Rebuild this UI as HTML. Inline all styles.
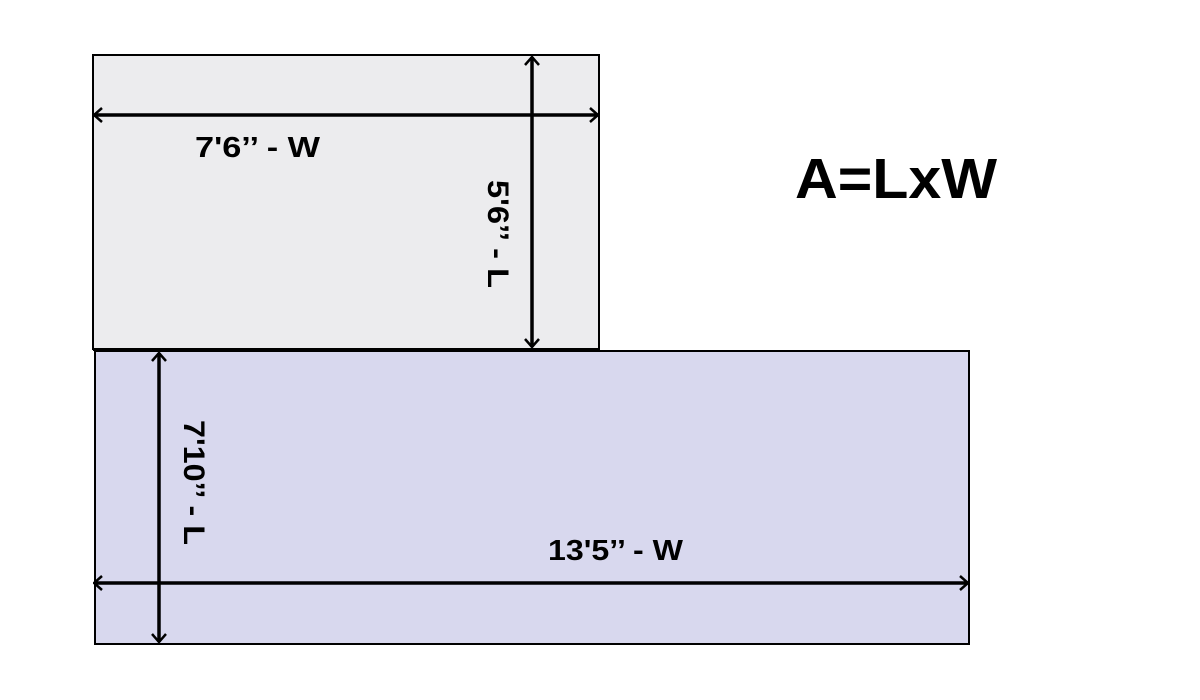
<!DOCTYPE html>
<html><head><meta charset="utf-8"><style>
html,body{margin:0;padding:0;background:#fff;width:1200px;height:700px;overflow:hidden}
svg text{font-family:"Liberation Sans",sans-serif;font-weight:bold;fill:#000}
</style></head><body>
<svg width="1200" height="700" viewBox="0 0 1200 700" xmlns="http://www.w3.org/2000/svg">
<defs>
<marker id="a" viewBox="0 0 10 16" refX="9" refY="8" markerWidth="10" markerHeight="16" markerUnits="userSpaceOnUse" orient="auto-start-reverse">
<path d="M1,1 L9,8 L1,15" fill="none" stroke="#000" stroke-width="2.5"/>
</marker>
</defs>
<rect x="93" y="55" width="506" height="294" fill="#ececee" stroke="#000" stroke-width="2"/>
<rect x="95" y="351" width="874" height="293" fill="#d8d8ee" stroke="#000" stroke-width="2"/>
<line x1="93" y1="349.5" x2="599" y2="349.5" stroke="#000" stroke-width="3"/>
<line x1="94" y1="115" x2="598" y2="115" stroke="#000" stroke-width="3.5" marker-start="url(#a)" marker-end="url(#a)"/>
<line x1="532" y1="57" x2="532" y2="347" stroke="#000" stroke-width="3.5" marker-start="url(#a)" marker-end="url(#a)"/>
<line x1="159" y1="353" x2="159" y2="642" stroke="#000" stroke-width="3.5" marker-start="url(#a)" marker-end="url(#a)"/>
<line x1="94" y1="583" x2="968" y2="583" stroke="#000" stroke-width="3.5" marker-start="url(#a)" marker-end="url(#a)"/>
<text x="195" y="157" font-size="29" textLength="125" lengthAdjust="spacingAndGlyphs">7'6’’ - W</text>
<text x="548" y="560" font-size="29" textLength="135" lengthAdjust="spacingAndGlyphs">13'5’’ - W</text>
<text transform="translate(488,180) rotate(90)" font-size="30" textLength="108" lengthAdjust="spacingAndGlyphs">5'6’’ - L</text>
<text transform="translate(184,420) rotate(90)" font-size="30" textLength="125" lengthAdjust="spacingAndGlyphs">7'10’’ - L</text>
<text x="795" y="198" font-size="57" textLength="202" lengthAdjust="spacingAndGlyphs">A=LxW</text>
</svg>
</body></html>
